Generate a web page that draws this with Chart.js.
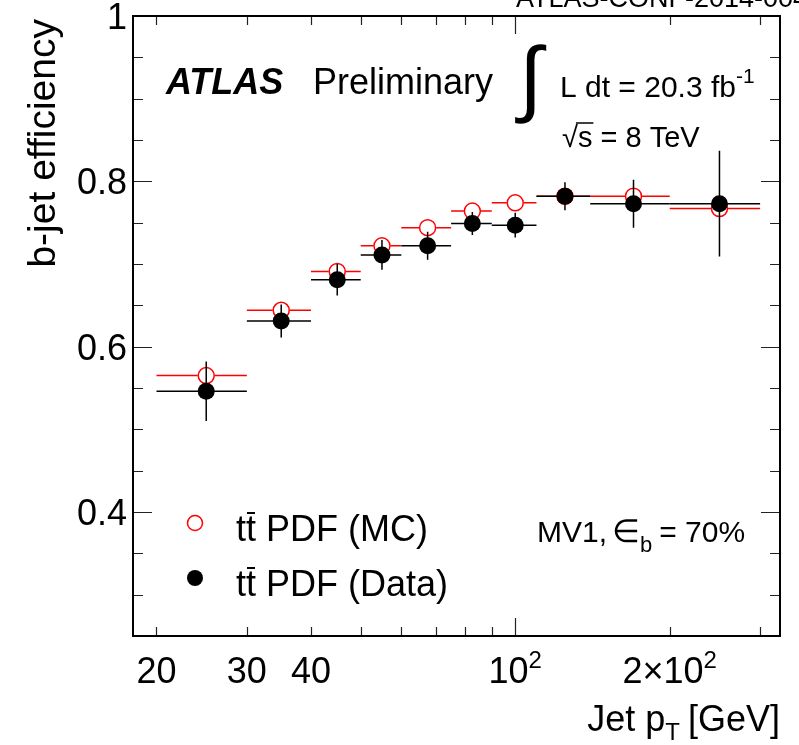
<!DOCTYPE html>
<html>
<head>
<meta charset="utf-8">
<script src="https://cdn.jsdelivr.net/npm/chart.js@4/dist/chart.umd.min.js"></script>
<style>
  html, body { margin: 0; padding: 0; background: #fff; }
  canvas { display: block; }
</style>
</head>
<body>
<canvas id="grafico" width="799" height="745"></canvas>
<script>
// bin del pT dei jet [GeV] e punti al centro del bin
const binEdges = [20, 30, 40, 50, 60, 75, 90, 110, 140, 200, 300];
const binCentres = [25, 35, 45, 55, 67.5, 82.5, 100, 125, 170, 250];

// efficienza b-jet
const effMC = [0.565, 0.644, 0.691, 0.722, 0.744, 0.764, 0.774, 0.782, 0.782, 0.767];
const effData = [0.546, 0.631, 0.681, 0.711, 0.722, 0.749, 0.747, 0.782, 0.773, 0.773];
const errData = [0.036, 0.020, 0.019, 0.018, 0.017, 0.014, 0.015, 0.017, 0.029, 0.064];

// tacche e etichette degli assi
const xMajorTicks = [100];
const xMinorTicks = [20, 30, 40, 50, 60, 70, 80, 90, 200, 300];
const xTickValues = [20, 30, 40, 100, 200];
const xTickLabels = [['20', ''], ['30', ''], ['40', ''], ['10', '2'], ['2\u00d710', '2']];
const yMajorTicks = [0.4, 0.6, 0.8, 1.0];
const yMinorTicks = [0.3, 0.35, 0.45, 0.5, 0.55, 0.65, 0.7, 0.75, 0.85, 0.9, 0.95];
const yTickLabels = ['0.4', '0.6', '0.8', '1'];

const FONT = '"Liberation Sans", Arial, Helvetica, sans-serif';
const ROSSO = '#ff0000';
const NERO = '#000000';
const R_MARKER = 8.5;

function font(size, stile) {
    return (stile || '') + ' ' + size + 'px ' + FONT;
}

// testo con pezzi (apici, pedici, barre)
function testoComposto(ctx, pezzi, x, y, allinea) {
    let w = 0;
    pezzi.forEach(p => {
        ctx.font = font(p.size, p.stile);
        p.w = ctx.measureText(p.t).width;
        w += p.w + (p.gap || 0);
    });
    let cx = allinea === 'right' ? x - w : allinea === 'center' ? x - w / 2 : x;
    ctx.textAlign = 'left';
    ctx.textBaseline = 'alphabetic';
    pezzi.forEach(p => {
        ctx.font = font(p.size, p.stile);
        ctx.fillText(p.t, cx, y + (p.dy || 0));
        if (p.barra) {
            ctx.save();
            ctx.lineWidth = 2;
            ctx.strokeStyle = ctx.fillStyle;
            ctx.beginPath();
            ctx.moveTo(cx + 1, y - p.barra);
            ctx.lineTo(cx + p.w - 1, y - p.barra);
            ctx.stroke();
            ctx.restore();
        }
        cx += p.w + (p.gap || 0);
    });
    return w;
}

const barreErrore = {
    id: 'barreErrore',
    beforeDatasetDraw(chart, args) {
        const ctx = chart.ctx;
        const xs = chart.scales.x, ys = chart.scales.y;
        const area = chart.chartArea;
        const mc = args.index === 1;
        const valori = mc ? effMC : effData;
        ctx.save();
        ctx.beginPath();
        ctx.rect(area.left, area.top, area.right - area.left, area.bottom - area.top);
        ctx.clip();
        ctx.strokeStyle = mc ? ROSSO : NERO;
        ctx.lineWidth = 1.5;
        valori.forEach((v, i) => {
            const x0 = xs.getPixelForValue(binEdges[i]);
            const x1 = xs.getPixelForValue(binEdges[i + 1]);
            const xc = xs.getPixelForValue(binCentres[i]);
            const y = ys.getPixelForValue(v);
            ctx.beginPath();
            if (mc) {
                ctx.moveTo(x0, y); ctx.lineTo(xc - R_MARKER, y);
                ctx.moveTo(xc + R_MARKER, y); ctx.lineTo(x1, y);
            } else {
                ctx.moveTo(x0, y); ctx.lineTo(x1, y);
                ctx.moveTo(xc, ys.getPixelForValue(v + errData[i]));
                ctx.lineTo(xc, ys.getPixelForValue(v - errData[i]));
            }
            ctx.stroke();
        });
        ctx.restore();
    }
};

const cornice = {
    id: 'cornice',
    afterDraw(chart) {
        const ctx = chart.ctx;
        const xs = chart.scales.x, ys = chart.scales.y;
        const a = chart.chartArea;
        ctx.save();

        // tacche
        ctx.strokeStyle = '#222';
        ctx.lineWidth = 1.2;
        ctx.beginPath();
        const tx = (v, l) => {
            const p = Math.round(xs.getPixelForValue(v)) + 0.5;
            ctx.moveTo(p, a.bottom); ctx.lineTo(p, a.bottom - l);
            ctx.moveTo(p, a.top); ctx.lineTo(p, a.top + l);
        };
        const ty = (v, l) => {
            const p = Math.round(ys.getPixelForValue(v)) + 0.5;
            ctx.moveTo(a.left, p); ctx.lineTo(a.left + l, p);
            ctx.moveTo(a.right, p); ctx.lineTo(a.right - l, p);
        };
        xMajorTicks.forEach(v => tx(v, 18));
        xMinorTicks.forEach(v => tx(v, 9));
        yMajorTicks.forEach(v => ty(v, 19));
        yMinorTicks.forEach(v => ty(v, 10));
        ctx.stroke();

        // cornice
        ctx.strokeStyle = NERO;
        ctx.lineWidth = 2;
        ctx.strokeRect(a.left, a.top, a.right - a.left, a.bottom - a.top);

        ctx.fillStyle = NERO;
        // etichette asse y
        ctx.font = font(36);
        ctx.textAlign = 'right';
        ctx.textBaseline = 'alphabetic';
        yMajorTicks.forEach((v, i) => {
            ctx.fillText(yTickLabels[i], a.left - 6, ys.getPixelForValue(v) + 13);
        });
        // etichette asse x
        xTickValues.forEach((v, i) => {
            const [base, esp] = xTickLabels[i];
            const pezzi = [{ t: base, size: 36 }];
            if (esp) pezzi.push({ t: esp, size: 24, dy: -15 });
            testoComposto(ctx, pezzi, xs.getPixelForValue(v), 683, 'center');
        });

        // titoli assi
        testoComposto(ctx, [
            { t: 'Jet p', size: 36 },
            { t: 'T', size: 24, dy: 9, gap: 8 },
            { t: '[GeV]', size: 36 }
        ], 780, 731, 'right');
        ctx.save();
        ctx.translate(55, 19);
        ctx.rotate(-Math.PI / 2);
        ctx.font = font(39);
        ctx.textAlign = 'right';
        ctx.fillText('b-jet efficiency', 0, 0);
        ctx.restore();

        // intestazione
        ctx.font = font(27);
        ctx.textAlign = 'left';
        ctx.fillText('ATLAS-CONF-2014-004', 516, 7);

        ctx.font = font(36, 'italic bold');
        ctx.fillText('ATLAS', 166, 94);
        ctx.font = font(36);
        ctx.fillText('Preliminary', 313, 94);

        ctx.font = font(84, '');
        ctx.fillText('\u222b', 519, 106);
        testoComposto(ctx, [
            { t: 'L dt = 20.3 fb', size: 30 },
            { t: '-1', size: 21, dy: -14 }
        ], 560, 97, 'left');

        ctx.font = font(29);
        ctx.fillText('\u221a', 562, 147);
        const wr = ctx.measureText('\u221a').width;
        const ws = ctx.measureText('s').width;
        ctx.lineWidth = 1.5;
        ctx.beginPath();
        ctx.moveTo(562 + wr - 2, 123);
        ctx.lineTo(562 + wr + ws + 1, 123);
        ctx.stroke();
        ctx.fillText('s = 8 TeV', 562 + wr, 147);

        // etichetta tagger
        testoComposto(ctx, [
            { t: 'MV1,', size: 30, gap: 5 },
            { t: '\u2208', size: 32 },
            { t: 'b', size: 22, dy: 10, gap: 7 },
            { t: '= 70%', size: 30 }
        ], 537, 542, 'left');

        // legenda
        ctx.strokeStyle = ROSSO;
        ctx.lineWidth = 1.5;
        ctx.beginPath();
        ctx.arc(195, 523, 7.5, 0, Math.PI * 2);
        ctx.stroke();
        ctx.fillStyle = NERO;
        ctx.beginPath();
        ctx.arc(195, 578, 8, 0, Math.PI * 2);
        ctx.fill();
        testoComposto(ctx, [
            { t: 't', size: 36 }, { t: 't', size: 36, barra: 28, gap: 10 },
            { t: 'PDF (MC)', size: 36 }
        ], 236, 541, 'left');
        testoComposto(ctx, [
            { t: 't', size: 36 }, { t: 't', size: 36, barra: 28, gap: 10 },
            { t: 'PDF (Data)', size: 36 }
        ], 236, 596, 'left');

        ctx.restore();
    }
};

const ctx = document.getElementById('grafico').getContext('2d');
new Chart(ctx, {
    type: 'scatter',
    data: {
        datasets: [
            {
                label: 'tt\u0304 PDF (Data)',
                data: binCentres.map((x, i) => ({ x: x, y: effData[i] })),
                pointStyle: 'circle',
                pointRadius: R_MARKER,
                pointBackgroundColor: NERO,
                pointBorderColor: NERO,
                pointBorderWidth: 0,
                order: 1
            },
            {
                label: 'tt\u0304 PDF (MC)',
                data: binCentres.map((x, i) => ({ x: x, y: effMC[i] })),
                pointStyle: 'circle',
                pointRadius: R_MARKER - 0.5,
                pointBackgroundColor: 'rgba(0,0,0,0)',
                pointBorderColor: ROSSO,
                pointBorderWidth: 1.5,
                order: 2
            }
        ]
    },
    options: {
        responsive: false,
        animation: false,
        events: [],
        layout: { padding: { left: 133, right: 19, top: 16, bottom: 109 } },
        scales: {
            x: { type: 'logarithmic', min: 18, max: 328, display: false },
            y: { type: 'linear', min: 0.25, max: 1.0, display: false }
        },
        plugins: {
            legend: { display: false },
            tooltip: { enabled: false }
        }
    },
    plugins: [barreErrore, cornice]
});
</script>
</body>
</html>
